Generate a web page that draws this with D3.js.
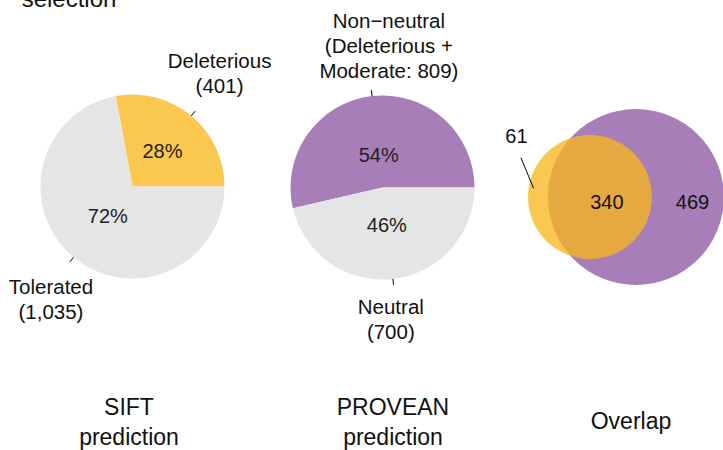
<!DOCTYPE html>
<html>
<head>
<meta charset="utf-8">
<script src="https://cdn.jsdelivr.net/npm/d3@7"></script>
<style>
body{margin:0;background:#fff;}
text{font-family:"Liberation Sans",Arial,sans-serif;fill:#111;}
</style>
</head>
<body>
<svg id="chart" width="723" height="450"></svg>
<script>
// data
var siftCategories=["Deleterious","Tolerated"];
var siftCounts=[401,1035];
var siftLabels=[["Deleterious","(401)"],["Tolerated","(1,035)"]];
var proveanCategories=["Non\u2212neutral","Neutral"];
var proveanCounts=[809,700];
var proveanLabels=[["Non\u2212neutral","(Deleterious +","Moderate: 809)"],["Neutral","(700)"]];
var vennSets=["SIFT deleterious","PROVEAN non-neutral"];
var vennOnly=[61,469];
var vennBoth=340;
var panelTitles=[["SIFT","prediction"],["PROVEAN","prediction"],["Overlap"]];
var headerText="selection";

// layout
var W=723,H=450;
var pieR=92;
var pieCenters=[[132.5,186.5],[382.5,187.5]];
var pctRadius=[[0.51,0.42],[0.36,0.41]];
var labelNudge=[[[24.4,-17.8],[-18.9,32]],[[17.5,-12],[-2.8,29.4]]];
var sliceColors=["#FAC84F","#E5E5E5"];
var proveanColors=["#A77EB8","#E5E5E5"];
var lineGap=25;
var titleX=[129,393,631];
var titleY=[414.5,429];

var svg=d3.select("#chart");

var pie=d3.pie().sort(null).startAngle(Math.PI/2).endAngle(Math.PI/2-2*Math.PI);

function drawPie(counts,labels,colors,center,pctR,nudge){
	var total=d3.sum(counts);
	var g=svg.append("g").attr("transform","translate("+center[0]+","+center[1]+")");
	var arcs=pie(counts);
	var arc=d3.arc().innerRadius(0).outerRadius(pieR);
	g.selectAll("path.slice").data(arcs).enter().append("path")
		.attr("class","slice").attr("d",arc).attr("fill",function(d,i){return colors[i];});
	arcs.forEach(function(d,i){
		var mid=(d.startAngle+d.endAngle)/2;
		var dx=Math.sin(mid),dy=-Math.cos(mid);
		var pr=pieR*pctR[i];
		g.append("text").attr("x",dx*pr).attr("y",dy*pr).attr("dy","0.36em")
			.attr("text-anchor","middle").style("font-size","20px").style("fill","#222")
			.text(Math.round(d.value/total*100)+"%");
		g.append("line").attr("x1",dx*pieR).attr("y1",dy*pieR)
			.attr("x2",dx*(pieR+6)).attr("y2",dy*(pieR+6))
			.attr("stroke","#000").attr("stroke-width",1);
		var ax=dx*(pieR+6)+nudge[i][0];
		var ay=dy*(pieR+6)+nudge[i][1];
		var lines=labels[i];
		var first=dy<0?ay-(lines.length-1)*lineGap:ay;
		var t=g.append("text").attr("text-anchor","middle").style("font-size","20.5px");
		lines.forEach(function(s,k){
			t.append("tspan").attr("x",ax).attr("y",first+k*lineGap).text(s);
		});
	});
}

drawPie(siftCounts,siftLabels,sliceColors,pieCenters[0],pctRadius[0],labelNudge[0]);
drawPie(proveanCounts,proveanLabels,proveanColors,pieCenters[1],pctRadius[1],labelNudge[1]);

// area-proportional venn
var vennTotals=[vennOnly[0]+vennBoth,vennOnly[1]+vennBoth];
var rScale=d3.scaleSqrt().domain([0,vennTotals[1]]).range([0,88]);
var r1=rScale(vennTotals[0]),r2=rScale(vennTotals[1]);
var unitArea=Math.PI*r2*r2/vennTotals[1];

function lensArea(a,b,d){
	if(d>=a+b)return 0;
	if(d<=Math.abs(a-b))return Math.PI*Math.min(a,b)*Math.min(a,b);
	var p=a*a*Math.acos((d*d+a*a-b*b)/(2*d*a));
	var q=b*b*Math.acos((d*d+b*b-a*a)/(2*d*b));
	var s=0.5*Math.sqrt((-d+a+b)*(d+a-b)*(d-a+b)*(d+a+b));
	return p+q-s;
}
var lo=Math.abs(r1-r2),hi=r1+r2,target=vennBoth*unitArea;
for(var it=0;it<60;it++){
	var mid=(lo+hi)/2;
	if(lensArea(r1,r2,mid)>target)lo=mid;else hi=mid;
}
var dist=(lo+hi)/2;

var vennLeft=528,vennCy=197;
var c1=vennLeft+r1,c2=c1+dist;
var vg=svg.append("g");
vg.append("circle").attr("cx",c2).attr("cy",vennCy).attr("r",r2).attr("fill","#A77EB8");
vg.append("circle").attr("cx",c1).attr("cy",vennCy).attr("r",r1).attr("fill","#F8B61C").attr("fill-opacity",0.77);

var luneX=(c1-r1+c2-r2)/2;
var bothX=(c2-r2+c1+r1)/2;
var onlyX=(c1+r1+c2+r2)/2;
var leadEnd=[luneX-4.4,vennCy-8.7];
var leadStart=[leadEnd[0]-12.6,leadEnd[1]-30.6];
vg.append("line").attr("x1",leadStart[0]).attr("y1",leadStart[1])
	.attr("x2",leadEnd[0]).attr("y2",leadEnd[1]).attr("stroke","#000").attr("stroke-width",1);
vg.append("text").attr("x",leadStart[0]-4.5).attr("y",leadStart[1]-14.4)
	.attr("text-anchor","middle").style("font-size","20px").text(vennOnly[0]);
vg.append("text").attr("x",bothX+7).attr("y",vennCy+12)
	.attr("text-anchor","middle").style("font-size","20px").text(vennBoth);
vg.append("text").attr("x",onlyX+4.6).attr("y",vennCy+12)
	.attr("text-anchor","middle").style("font-size","20px").text(vennOnly[1]);

// panel titles
panelTitles.forEach(function(lines,i){
	var t=svg.append("text").attr("text-anchor","middle").style("font-size","23px");
	var y0=lines.length>1?titleY[0]:titleY[1];
	lines.forEach(function(s,k){
		t.append("tspan").attr("x",titleX[i]).attr("y",y0+k*30.5).text(s);
	});
});

// last line of a header that runs off the top edge, as in the figure
svg.append("text").attr("x",69).attr("y",7).attr("text-anchor","middle")
	.style("font-size","24px").text(headerText);
</script>
</body>
</html>
